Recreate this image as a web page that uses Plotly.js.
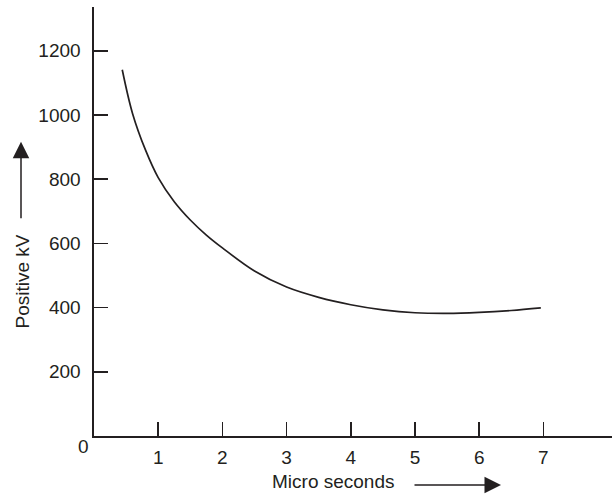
<!DOCTYPE html>
<html>
<head>
<meta charset="utf-8">
<script src="https://cdn.plot.ly/plotly-3.0.1.min.js"></script>
<style>html,body{margin:0;padding:0;background:#fff;}#chart{width:612px;height:496px;}</style>
</head>
<body>
<div id="chart"></div>
<script>
// Data
const microSeconds = [0.44, 0.6, 0.8, 1.0, 1.25, 1.5, 1.75, 2.0, 2.5, 3.0, 3.5, 4.0, 4.5, 5.0, 5.5, 6.0, 6.5, 6.96];
const positiveKV   = [1141, 1005, 892, 805, 730, 673, 626, 586, 514, 464, 432, 409, 393, 384, 382, 385, 391, 399];
const xTickVals = [1, 2, 3, 4, 5, 6, 7];
const yTickVals = [200, 400, 600, 800, 1000, 1200];

const W = 612, H = 496;
const L = 94, R = 0, T = 7, B = 60;
const pw = W - L - R, ph = H - T - B;
// pixel -> paper helpers for decorative annotations
const px = v => (v - L) / pw;
const py = v => (H - B - v) / ph;

const ink = '#231f20';
const font = {family: 'Liberation Sans, Arial, Helvetica, sans-serif', size: 19, color: ink};

const trace = {
  x: microSeconds, y: positiveKV,
  type: 'scatter', mode: 'lines',
  line: {shape: 'spline', smoothing: 1, color: ink, width: 1.7},
  hoverinfo: 'skip'
};

const layout = {
  width: W, height: H,
  margin: {l: L, r: R, t: T, b: B, pad: 0},
  paper_bgcolor: '#fff', plot_bgcolor: '#fff',
  showlegend: false,
  font: font,
  xaxis: {
    range: [0, pw / 64.2], showgrid: false, zeroline: false,
    showline: true, linecolor: ink, linewidth: 1.6,
    ticks: 'inside', ticklen: 14, tickwidth: 1.5, tickcolor: ink,
    tickvals: xTickVals, ticktext: xTickVals.map(String),
    tickfont: font, ticklabelstandoff: 4
  },
  yaxis: {
    range: [0, ph / 0.321], showgrid: false, zeroline: false,
    showline: true, linecolor: ink, linewidth: 1.6,
    ticks: 'inside', ticklen: 14, tickwidth: 1.5, tickcolor: ink,
    tickvals: yTickVals, ticktext: yTickVals.map(String),
    tickfont: font, ticklabelstandoff: 8
  },
  annotations: [
    {text: '0', xref: 'paper', yref: 'paper', x: px(83), y: py(447), showarrow: false,
     xanchor: 'center', yanchor: 'middle', font: font},
    {text: 'Micro seconds', xref: 'paper', yref: 'paper', x: px(333), y: py(482), showarrow: false,
     xanchor: 'center', yanchor: 'middle', font: font},
    {text: 'Positive kV', xref: 'paper', yref: 'paper', x: px(22), y: py(281.5), showarrow: false,
     textangle: -90, xanchor: 'center', yanchor: 'middle', font: font},
    {text: '', xref: 'paper', yref: 'paper', x: px(501), y: py(485), ax: -88, ay: 0,
     showarrow: true, arrowhead: 2, arrowsize: 2.2, arrowwidth: 1.5, arrowcolor: ink, standoff: 0},
    {text: '', xref: 'paper', yref: 'paper', x: px(21), y: py(141.7), ax: 0, ay: 78,
     showarrow: true, arrowhead: 2, arrowsize: 2.2, arrowwidth: 1.5, arrowcolor: ink, standoff: 0}
  ]
};

Plotly.newPlot('chart', [trace], layout, {staticPlot: true, displayModeBar: false});
</script>
</body>
</html>
